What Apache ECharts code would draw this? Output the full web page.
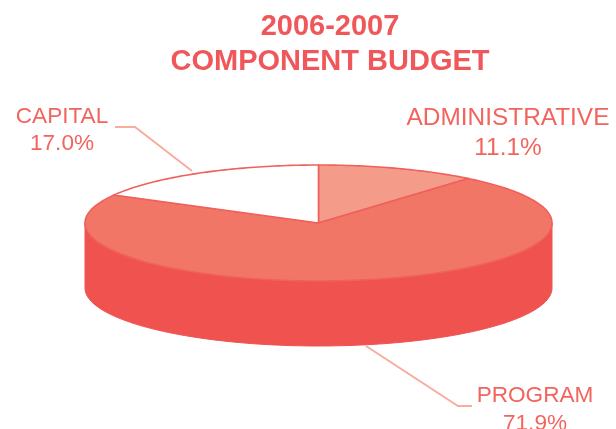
<!DOCTYPE html>
<html><head><meta charset="utf-8">
<style>html,body{margin:0;padding:0;background:#fff}#c{width:616px;height:429px}</style>
<script src="https://cdn.jsdelivr.net/npm/echarts@6/dist/echarts.min.js"></script>
</head><body><div id="c"></div>
<script>
const titleLines = ['2006-2007', 'COMPONENT BUDGET'];
const categories = ['ADMINISTRATIVE', 'PROGRAM', 'CAPITAL'];
const shares = [11.1, 71.9, 17.0];
const sliceColors = ['#f49b8a', '#f27666', '#ffffff'];

// layout of the drawing (pixels), not data
const PIE = {cx: 318.5, cy: 223, rx: 233.5, ry: 58, depth: 65};
const LABELS = [
  {x: 508, y1: 118, y2: 148, size: 24.4, leader: null},
  {x: 535, y1: 396, y2: 424, size: 22.6, leader: [[366, 346], [458, 406], [472, 406]]},
  {x: 62,  y1: 117, y2: 144, size: 22.6, leader: [[115, 127], [135, 127], [192, 171]]}
];
const OUTLINE = '#f0605c', SIDE = '#f05250', TEXT = '#f2645e', LEAD = '#f9ad9f';

// cumulative start/end of each slice, clockwise from 12 o'clock
let running = 0;
const rows = shares.map((v, i) => { const r = [running, running + v, i]; running += v; return r; });
const total = running;

function toPoint(api, deg, dy) {
  const a = deg * Math.PI / 180;
  return api.coord([PIE.cx + PIE.rx * Math.sin(a), PIE.cy + (dy || 0) - PIE.ry * Math.cos(a)]);
}
function arc(api, from, to, dy) {
  const pts = [], n = Math.max(2, Math.ceil(Math.abs(to - from)));
  for (let k = 0; k <= n; k++) pts.push(toPoint(api, from + (to - from) * k / n, dy));
  return pts;
}
function renderSide(params, api) {
  const from = Math.max(api.value(0) / total * 360, 90), to = Math.min(api.value(1) / total * 360, 270);
  if (to <= from) return {type: 'group', children: []};
  const pts = arc(api, from, to, 0).concat(arc(api, to, from, PIE.depth));
  return {type: 'polygon', shape: {points: pts}, style: {fill: SIDE, stroke: SIDE, lineWidth: 1}};
}
function renderTop(params, api) {
  const from = api.value(0) / total * 360, to = api.value(1) / total * 360, i = api.value(2);
  const pts = [api.coord([PIE.cx, PIE.cy])].concat(arc(api, from, to, 0));
  return {type: 'polygon', shape: {points: pts},
    style: {fill: sliceColors[i], stroke: OUTLINE, lineWidth: 1.6, lineJoin: 'round'}};
}
function renderLabel(params, api) {
  const i = api.value(2), L = LABELS[i], p1 = api.coord([L.x, L.y1]), p2 = api.coord([L.x, L.y2]);
  const font = L.size + 'px "Liberation Sans", Arial, sans-serif';
  const children = [
    {type: 'text', style: {text: categories[i], x: p1[0], y: p1[1], fill: TEXT, font: font, align: 'center', verticalAlign: 'middle'}},
    {type: 'text', style: {text: shares[i].toFixed(1) + '%', x: p2[0], y: p2[1], fill: TEXT, font: font, align: 'center', verticalAlign: 'middle'}}
  ];
  if (L.leader) children.unshift({type: 'polyline', shape: {points: L.leader.map(q => api.coord(q))},
    style: {fill: 'none', stroke: LEAD, lineWidth: 2}});
  return {type: 'group', children: children};
}

const chart = echarts.init(document.getElementById('c'), null, {renderer: 'canvas'});
chart.setOption({
  animation: false,
  backgroundColor: '#ffffff',
  title: {
    text: titleLines.join('\n'), left: 330, top: 9, padding: 0, textAlign: 'center',
    textStyle: {fontFamily: '"Liberation Sans", Arial, sans-serif', fontWeight: 'bold', fontSize: 29, lineHeight: 35, color: '#f0575a'}
  },
  grid: {left: 0, right: 0, top: 0, bottom: 0},
  xAxis: {type: 'value', min: 0, max: 616, show: false},
  yAxis: {type: 'value', min: 0, max: 429, inverse: true, show: false},
  series: [
    {type: 'custom', renderItem: renderLabel, data: rows, silent: true, clip: false, z: 1},
    {type: 'custom', renderItem: renderSide, data: rows, silent: true, clip: false, z: 2},
    {type: 'custom', renderItem: renderTop, data: rows, silent: true, clip: false, z: 3}
  ]
});
</script></body></html>
